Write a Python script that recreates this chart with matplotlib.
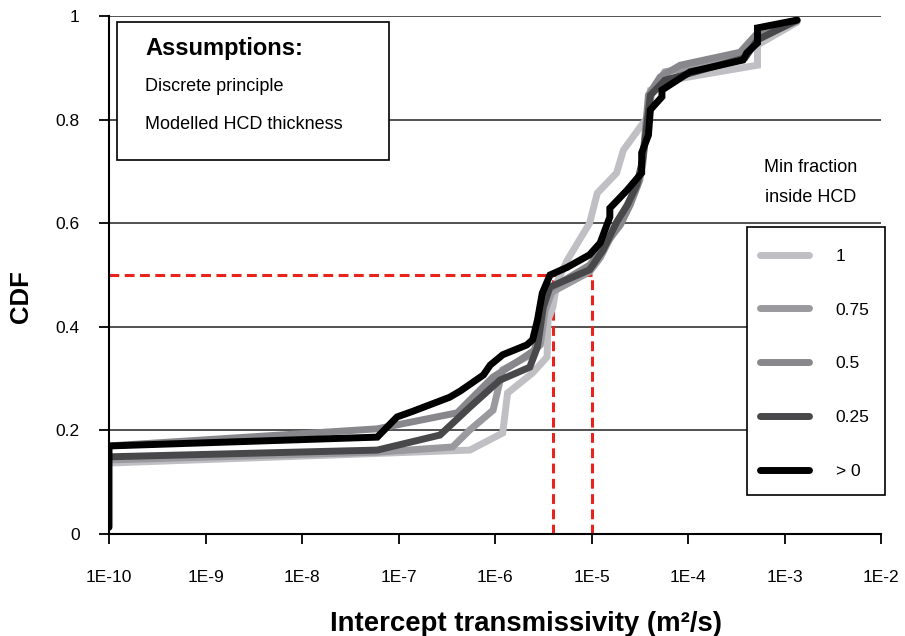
import matplotlib
matplotlib.use("Agg")
import matplotlib.pyplot as plt
from matplotlib.patches import Rectangle
import numpy as np

plt.rcParams['font.family'] = ['Liberation Sans', 'DejaVu Sans']

# log10 of intercept transmissivity (m2/s) and CDF
logT_1 = [-10, -6.26, -5.92, -5.87, -5.61, -5.46, -5.45, -5.40, -5.36, -5.25, -5.02, -4.94, -4.74, -4.67, -4.42, -4.39, -4.19, -3.28, -3.28, -2.87]
cdf_1 = [0.137, 0.162, 0.195, 0.272, 0.311, 0.342, 0.413, 0.438, 0.485, 0.529, 0.600, 0.658, 0.697, 0.741, 0.805, 0.857, 0.876, 0.905, 0.944, 0.988]

logT_075 = [-10, -7.22, -6.44, -6.26, -6.02, -5.92, -5.67, -5.53, -5.48, -5.41, -5.02, -4.91, -4.79, -4.65, -4.55, -4.47, -4.42, -4.37, -4.24, -3.88, -3.46, -3.28, -2.87]
cdf_075 = [0.143, 0.158, 0.168, 0.201, 0.239, 0.317, 0.342, 0.365, 0.432, 0.467, 0.506, 0.533, 0.577, 0.622, 0.664, 0.712, 0.809, 0.857, 0.892, 0.905, 0.925, 0.958, 0.990]

logT_05 = [-10, -7.22, -6.39, -6.29, -6.02, -5.74, -5.59, -5.51, -5.45, -5.02, -4.86, -4.70, -4.60, -4.50, -4.45, -4.41, -4.29, -4.08, -3.46, -3.28, -2.87]
cdf_05 = [0.170, 0.203, 0.234, 0.253, 0.303, 0.336, 0.355, 0.432, 0.471, 0.519, 0.558, 0.597, 0.635, 0.683, 0.761, 0.847, 0.882, 0.905, 0.930, 0.967, 0.992]

logT_025 = [-10, -7.22, -6.57, -6.26, -5.95, -5.64, -5.56, -5.50, -5.43, -5.02, -4.88, -4.74, -4.63, -4.53, -4.47, -4.42, -4.39, -4.24, -3.41, -3.28, -2.87]
cdf_025 = [0.149, 0.162, 0.191, 0.245, 0.297, 0.322, 0.361, 0.438, 0.477, 0.510, 0.548, 0.602, 0.635, 0.674, 0.722, 0.799, 0.847, 0.876, 0.919, 0.954, 0.992]

logT_0 = [-10, -10, -7.22, -7.015, -6.85, -6.47, -6.36, -6.12, -6.05, -5.92, -5.67, -5.61, -5.56, -5.51, -5.43, -5.25, -5.02, -4.91, -4.81, -4.81, -4.63, -4.48, -4.48, -4.41, -4.39, -4.27, -4.27, -3.98, -3.43, -3.39, -3.28, -3.28, -2.87]
cdf_0 = [0.013, 0.170, 0.187, 0.226, 0.237, 0.264, 0.276, 0.307, 0.326, 0.346, 0.365, 0.375, 0.413, 0.465, 0.500, 0.515, 0.539, 0.562, 0.612, 0.629, 0.664, 0.697, 0.736, 0.770, 0.819, 0.844, 0.857, 0.892, 0.915, 0.929, 0.948, 0.977, 0.992]

labels = ['1', '0.75', '0.5', '0.25', '> 0']
colors = ['#c0c0c4', '#9a9a9e', '#88888c', '#48484a', '#000000']

xticks_exp = [-10, -9, -8, -7, -6, -5, -4, -3, -2]
yticks = [0, 0.2, 0.4, 0.6, 0.8, 1]

fig = plt.figure(figsize=(9.05, 6.36), dpi=100)
ax = fig.add_axes([109/905, 1-534/636, 772/905, 518/636])

# red dashed guide lines (median)
red = '#e8231c'
ax.plot([1e-10, 1e-5], [0.5, 0.5], color=red, lw=2.2, dashes=(3.2, 1.8), zorder=2)
ax.plot([4e-6, 4e-6], [0, 0.5], color=red, lw=2.2, dashes=(3.2, 1.8), zorder=2)
ax.plot([1e-5, 1e-5], [0, 0.5], color=red, lw=2.2, dashes=(3.2, 1.8), zorder=2)

series = [(logT_1, cdf_1), (logT_075, cdf_075), (logT_05, cdf_05), (logT_025, cdf_025), (logT_0, cdf_0)]
for (lx, cy), c, lab in zip(series, colors, labels):
    ax.plot(10.0**np.array(lx), cy, color=c, lw=5, label=lab, zorder=3,
            solid_capstyle='round', solid_joinstyle='miter')

ax.set_xscale('log')
ax.set_xlim(1e-10, 1e-2)
ax.set_ylim(0, 1)
ax.set_xticks([10.0**e for e in xticks_exp])
ax.set_xticklabels(['1E%d' % e for e in xticks_exp])
ax.xaxis.set_minor_locator(matplotlib.ticker.NullLocator())
ax.set_yticks(yticks)
ax.set_yticklabels(['0', '0.2', '0.4', '0.6', '0.8', '1'])
ax.tick_params(axis='x', direction='out', length=7, width=1.3, pad=19, labelsize=12.5)
ax.tick_params(axis='y', direction='out', length=7, width=1.3, pad=14, labelsize=12.5)

ax.grid(True, axis='y', color='#333333', lw=1.2)
ax.set_axisbelow(True)
for s in ['top', 'right']:
    ax.spines[s].set_visible(False)
for s in ['left', 'bottom']:
    ax.spines[s].set_linewidth(1.5)
    ax.spines[s].set_zorder(4)

ax.set_xlabel('Intercept transmissivity (m²/s)', fontsize=19.8, fontweight='bold')
ax.set_ylabel('CDF', fontsize=18.5, fontweight='bold')
ax.xaxis.set_label_coords(0.54, -0.149)
ax.yaxis.set_label_coords(-0.099, 0.459)

# assumptions box
ax.add_patch(Rectangle((0.0104, 0.722), 0.3523, 0.266, transform=ax.transAxes,
                       fill=True, facecolor='white', edgecolor='black', lw=1.2, zorder=5))
ax.text(0.047, 0.937, 'Assumptions:', transform=ax.transAxes, fontsize=17,
        fontweight='bold', va='center', zorder=6)
ax.text(0.047, 0.864, 'Discrete principle', transform=ax.transAxes, fontsize=13,
        va='center', zorder=6)
ax.text(0.047, 0.791, 'Modelled HCD thickness', transform=ax.transAxes, fontsize=13,
        va='center', zorder=6)

# legend: title sits above the box, frame drawn separately
fig.text(811/905, 1-168/636, 'Min fraction', ha='center', va='center', fontsize=13)
fig.text(811/905, 1-197/636, 'inside HCD', ha='center', va='center', fontsize=13)
ax.add_patch(Rectangle((747/905, 1-495/636), 138/905, 268/636, transform=fig.transFigure,
                       clip_on=False, facecolor='white', edgecolor='black', lw=1.2, zorder=4.5))
leg = ax.legend(loc='upper left', bbox_to_anchor=(760/905, 1-248.5/636), bbox_transform=fig.transFigure,
                fontsize=12.5, frameon=False, handlelength=2.82, handletextpad=1.53,
                labelspacing=2.23, borderpad=0, borderaxespad=0)
leg.set_zorder(6)

plt.savefig('out.png', dpi=100)
